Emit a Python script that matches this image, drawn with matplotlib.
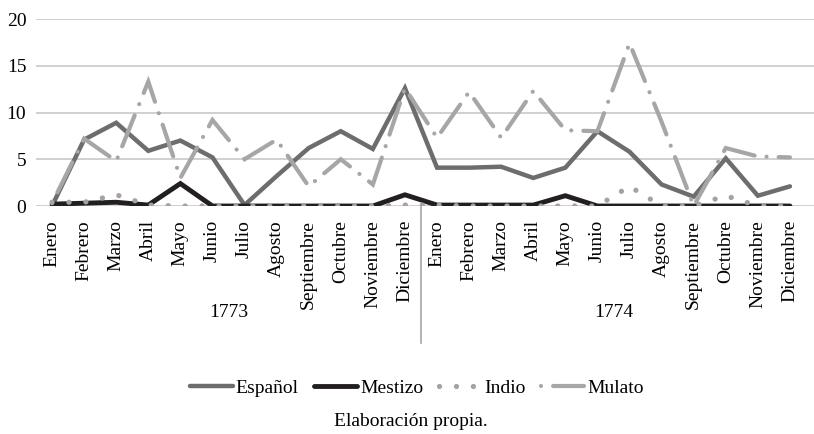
import numpy as np
import matplotlib
matplotlib.use("Agg")
import matplotlib.pyplot as plt
import matplotlib.transforms as mtransforms

plt.rcParams['font.family'] = ['Liberation Serif', 'DejaVu Serif']
plt.rcParams['font.size'] = 14

meses = ["Enero", "Febrero", "Marzo", "Abril", "Mayo", "Junio", "Julio",
         "Agosto", "Septiembre", "Octubre", "Noviembre", "Diciembre"]
anios = ["1773", "1774"]
etiquetas = meses + meses

espanol = [0, 7.1, 8.9, 5.9, 7.0, 5.2, 0.1, 3.2, 6.2, 8.0, 6.1, 12.6,
           4.1, 4.1, 4.2, 3.0, 4.1, 8.0, 5.8, 2.3, 1.0, 5.1, 1.1, 2.1]
mestizo = [0.2, 0.3, 0.4, 0.1, 2.4, 0, 0, 0, 0, 0, 0, 1.2,
           0.1, 0.1, 0.1, 0.1, 1.1, 0, 0, 0, 0, 0, 0, 0]
indio = [0.4, 0.4, 1.2, 0.1, 0, 0, 0, 0, 0, 0, 0, 0.1,
         0.1, 0, 0, 0, 0, 0, 2.1, 0, 0, 1.1, 0, 0]
mulato = [0.3, 7.2, 4.8, 13.3, 3.0, 9.2, 5.0, 7.1, 2.1, 5.0, 2.3, 12.6,
          7.3, 12.2, 7.3, 12.3, 8.1, 8.0, 17.4, 9.0, 0.0, 6.2, 5.3, 5.2]

x = np.arange(len(etiquetas))

fig = plt.figure(figsize=(8.14, 4.34), dpi=100)
ax = fig.add_axes([36 / 814, 1 - 206 / 434, 778 / 814, 187 / 434])

ax.plot(x, espanol, color='#6d6d6d', lw=3.2, solid_joinstyle='miter',
        solid_capstyle='round', label='Español')
ax.plot(x, mestizo, color='#231f20', lw=3.5, solid_joinstyle='miter',
        solid_capstyle='round', label='Mestizo')
ax.plot(x, indio, color='#a3a3a3', lw=3.8, ls=(0, (0.01, 3.2)),
        dash_capstyle='round', label='Indio')
# offset so the pattern starts with gap-dot-gap (as in the legend sample)
ax.plot(x, mulato, color='#a6a6a6', lw=3.0, ls=(10.9, (8.0, 2.9, 0.01, 2.9)),
        dash_capstyle='round', dash_joinstyle='miter', label='Mulato')

ax.set_xlim(-0.5, 23.75)
ax.set_ylim(0, 20)
ax.set_yticks([0, 5, 10, 15, 20])
ax.grid(axis='y', color='#c4c4c4', lw=1.1)
ax.set_axisbelow(True)
for s in ax.spines.values():
    s.set_visible(False)

ax.set_xticks(x)
ax.set_xticklabels(etiquetas, rotation=90, va='top', ha='center')
ax.tick_params(axis='x', length=0, pad=10)
ax.tick_params(axis='y', length=0, pad=7)

# year labels and separator
trans = mtransforms.blended_transform_factory(ax.transData, ax.transAxes)
ax.plot([11.5, 11.5], [0, -0.735], transform=trans, color='#a6a6a6',
        lw=1.2, clip_on=False)
ax.text(5.5, -0.567, anios[0], transform=trans, ha='center', va='center')
ax.text(17.5, -0.567, anios[1], transform=trans, ha='center', va='center')

fig.legend(loc='center', bbox_to_anchor=(0.512, 1 - 388 / 434), ncol=4,
           frameon=False, handlelength=2.2, handletextpad=0.15,
           columnspacing=0.8)

fig.text(0.505, 1 - 421 / 434, "Elaboración propia.", ha='center', va='center')

fig.savefig("out.png", dpi=100)
